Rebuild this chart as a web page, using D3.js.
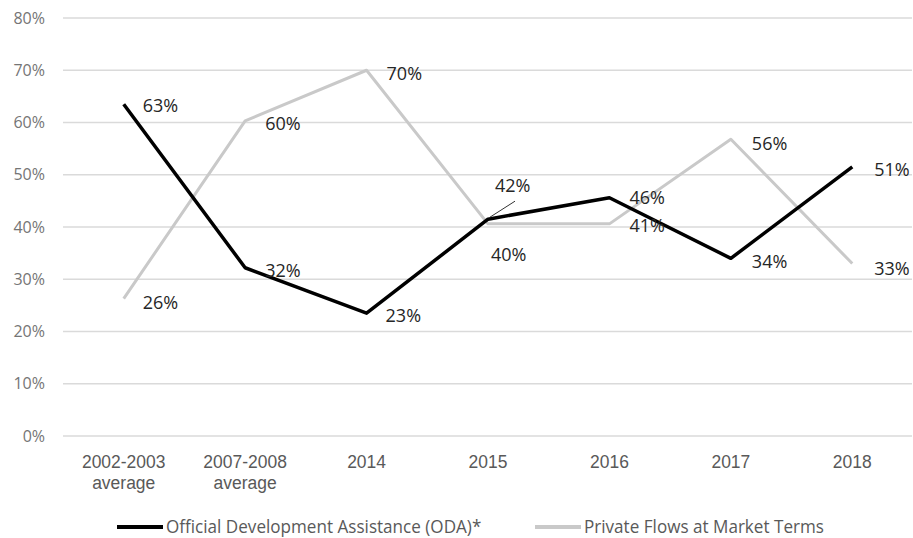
<!DOCTYPE html>
<html>
<head>
<meta charset="utf-8">
<script src="https://cdn.jsdelivr.net/npm/d3@7"></script>
<style>
  body { margin: 0; background: #fff; }
</style>
</head>
<body>
<div id="chart"></div>
<script>
var categories = ['2002-2003 average', '2007-2008 average', '2014', '2015', '2016', '2017', '2018'];
var odaValues = [63.5, 32.2, 23.5, 41.5, 45.6, 34, 51.5];
var odaLabels = ['63%', '32%', '23%', '42%', '46%', '34%', '51%'];
var privateValues = [26.3, 60.3, 70, 40.6, 40.6, 56.8, 33];
var privateLabels = ['26%', '60%', '70%', '40%', '41%', '56%', '33%'];
var yTicks = [0, 10, 20, 30, 40, 50, 60, 70, 80];
var seriesNames = ['Official Development Assistance (ODA)*', 'Private Flows at Market Terms'];
var seriesColors = ['#000', '#c9c9c9'];

var W = 913, H = 538;
var margin = {top: 18, right: 0, bottom: 102, left: 63};
var font = '"Open Sans", sans-serif';
var tickFont = '"Liberation Sans", Arial, sans-serif';

var svg = d3.select('#chart').append('svg')
  .attr('width', W).attr('height', H);

var x = d3.scaleBand().domain(categories).range([margin.left, W - margin.right]);
var y = d3.scaleLinear().domain([0, 80]).range([H - margin.bottom, margin.top]);
var cx = function(i){ return x(categories[i]) + x.bandwidth() / 2; };

// grid
svg.append('g').selectAll('line').data(yTicks).enter().append('line')
  .attr('x1', margin.left).attr('x2', W - 1)
  .attr('y1', function(d){ return y(d); }).attr('y2', function(d){ return y(d); })
  .attr('stroke', '#dadada').attr('stroke-width', 1.5);

// y tick labels
svg.append('g').selectAll('text').data(yTicks).enter().append('text')
  .attr('x', 45).attr('y', function(d){ return y(d); })
  .attr('dy', '0.35em').attr('text-anchor', 'end')
  .style('font-family', font).style('font-size', '16px')
  .attr('fill', '#757575')
  .text(function(d){ return d + '%'; });

// x labels, one text per line, narrowed a bit like the original face
var xl = svg.append('g').selectAll('g').data(categories).enter().append('g')
  .attr('transform', function(d, i){ return 'translate(' + cx(i) + ',0) scale(0.92,1)'; });
xl.each(function(d){
  var g = d3.select(this);
  d.split(' ').forEach(function(p, j){
    g.append('text')
      .attr('text-anchor', 'middle')
      .attr('x', 0).attr('y', 468 + j * 21.5)
      .style('font-family', tickFont)
      .style('font-size', '19px').attr('fill', '#595959')
      .text(p);
  });
});

var line = d3.line()
  .x(function(d, i){ return cx(i); })
  .y(function(d){ return y(d); });

svg.append('path').datum(privateValues).attr('d', line)
  .attr('fill', 'none').attr('stroke', seriesColors[1]).attr('stroke-width', 3)
  .attr('stroke-linejoin', 'round');
svg.append('path').datum(odaValues).attr('d', line)
  .attr('fill', 'none').attr('stroke', seriesColors[0]).attr('stroke-width', 3.5)
  .attr('stroke-linejoin', 'round');

// data labels (dx, dy offsets from point)
var odaOff = [[19,1],[20,3],[19,2],[7,-33],[20,0],[21,3],[22,3]];
var privOff = [[19,4],[20,3],[20,3],[3,31],[20,2],[21,4],[22,5]];

function labels(vals, texts, off){
  svg.append('g').selectAll('text').data(vals).enter().append('text')
    .attr('x', function(d, i){ return cx(i) + off[i][0]; })
    .attr('y', function(d, i){ return y(d) + off[i][1]; })
    .attr('dy', '0.35em')
    .style('font-family', font).style('font-size', '18px')
    .attr('fill', '#262626')
    .text(function(d, i){ return texts[i]; });
}
labels(odaValues, odaLabels, odaOff);
labels(privateValues, privateLabels, privOff);

// leader line for 42%
svg.append('line')
  .attr('x1', cx(3) + 2).attr('y1', y(odaValues[3]) - 2)
  .attr('x2', cx(3) + 27).attr('y2', y(odaValues[3]) - 18)
  .attr('stroke', '#333').attr('stroke-width', 1);

// legend
var legend = svg.append('g').selectAll('g').data(seriesNames).enter().append('g')
  .attr('transform', function(d, i){ return 'translate(' + (i === 0 ? 117 : 535) + ',527)'; });
legend.append('line').attr('x1', 0).attr('x2', 46)
  .attr('stroke', function(d, i){ return seriesColors[i]; })
  .attr('stroke-width', 4);
legend.append('text').attr('transform', 'translate(49,0) scale(0.95,1)').attr('dy', '0.35em')
  .style('font-family', font)
  .style('font-size', '18px').attr('fill', '#595959')
  .text(function(d){ return d; });
</script>
</body>
</html>
